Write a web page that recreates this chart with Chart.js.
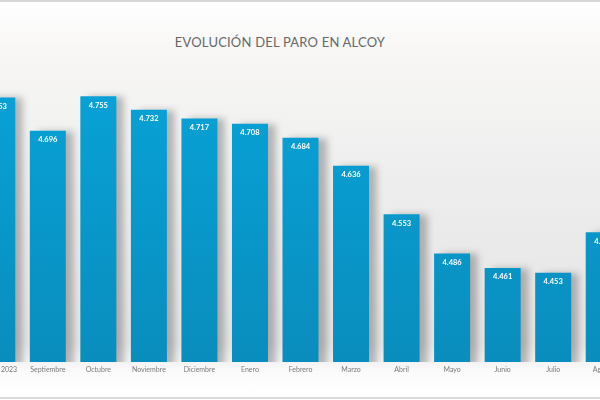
<!DOCTYPE html>
<html>
<head>
<meta charset="utf-8">
<script src="https://cdn.jsdelivr.net/npm/chart.js@4"></script>
<style>
  html, body { margin: 0; padding: 0; }
  body {
    width: 600px; height: 400px; overflow: hidden; position: relative;
    background: linear-gradient(to bottom, #ffffff 0%, #f8f7f6 12%, #ebebeb 55%, #e5e5e5 86%, #fbfbfb 93%, #ffffff 99%);
  }
  #topline { position: absolute; left: 0; top: 0; width: 600px; height: 2px; background: #d6d6d6; }
  #bottomline { position: absolute; left: 0; top: 397px; width: 600px; height: 2px; background: #dadada; }
  #title {
    position: absolute; left: 0; width: 560px; top: 34px; text-align: center;
    font-family: "Lato", sans-serif; font-size: 13px; color: #686868; letter-spacing: 0.2px;
  }
  #wrap { position: absolute; left: -28px; top: 0; width: 657px; height: 400px; }
</style>
</head>
<body>
<div id="topline"></div>
<div id="bottomline"></div>
<div id="title">EVOLUCIÓN DEL PARO EN ALCOY</div>
<div id="wrap"><canvas id="paroChart"></canvas></div>
<script>
const meses = ["Agosto 2023", "Septiembre", "Octubre", "Noviembre", "Diciembre", "Enero", "Febrero",
               "Marzo", "Abril", "Mayo", "Junio", "Julio", "Agosto"];
const parados = [4753, 4696, 4755, 4732, 4717, 4708, 4684, 4636, 4553, 4486, 4461, 4453, 4522];

function formato(n) {
    return String(n).replace(/\B(?=(\d{3})+(?!\d))/g, ".");
}

// sombra de las barras
const sombra = {
    id: "sombra",
    beforeDatasetsDraw(chart) {
        const ctx = chart.ctx;
        ctx.save();
        ctx.shadowColor = "rgba(0,0,0,0.26)";
        ctx.shadowBlur = 7;
        ctx.shadowOffsetX = 8;
        ctx.shadowOffsetY = 0;
    },
    afterDatasetsDraw(chart) {
        const ctx = chart.ctx;
        ctx.restore();
        // etiquetas de valor
        const meta = chart.getDatasetMeta(0);
        ctx.save();
        ctx.fillStyle = "#ffffff";
        ctx.font = "bold 7.5px 'Lato', sans-serif";
        ctx.textAlign = "center";
        ctx.textBaseline = "middle";
        meta.data.forEach((bar, i) => {
            ctx.fillText(formato(parados[i]), bar.x, bar.y + 9);
        });
        ctx.restore();
    }
};

const ctx = document.getElementById("paroChart").getContext("2d");
new Chart(ctx, {
    type: "bar",
    data: {
        labels: meses,
        datasets: [{
            data: parados,
            backgroundColor: function (c) {
                const area = c.chart.chartArea;
                if (!area) return "#0a9bd0";
                const g = c.chart.ctx.createLinearGradient(0, area.top, 0, area.bottom);
                g.addColorStop(0, "#08a3d8");
                g.addColorStop(1, "#098dbd");
                return g;
            },
            borderWidth: 0,
            barPercentage: 0.713,
            categoryPercentage: 1
        }]
    },
    options: {
        responsive: true,
        maintainAspectRatio: false,
        animation: false,
        layout: { padding: { top: 70, left: 0, right: 0, bottom: 0 } },
        plugins: {
            legend: { display: false },
            tooltip: { enabled: false }
        },
        scales: {
            x: {
                grid: { display: false, drawTicks: false },
                border: { display: false },
                ticks: {
                    color: "#7a7a7a",
                    font: { family: "Lato", size: 7 },
                    padding: 4,
                    maxRotation: 0,
                    autoSkip: false
                },
                afterFit(scale) { scale.height = 38; }
            },
            y: {
                display: false,
                min: 4300,
                max: 4800
            }
        }
    },
    plugins: [sombra]
});
</script>
</body>
</html>
